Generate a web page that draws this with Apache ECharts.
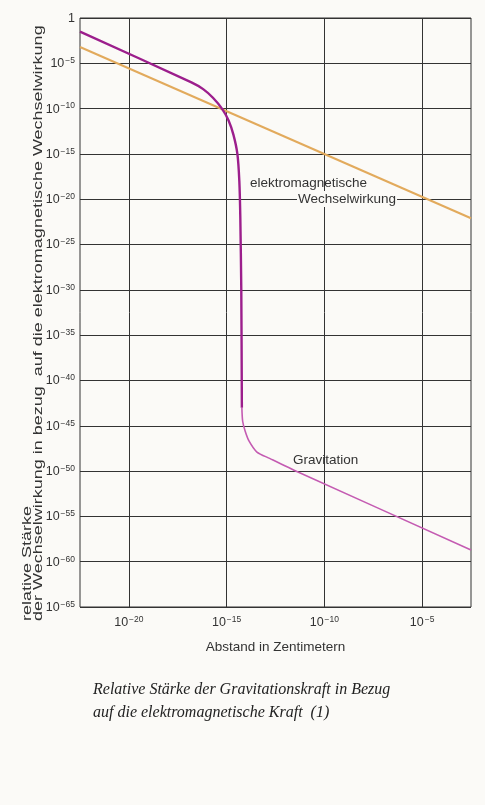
<!DOCTYPE html>
<html><head><meta charset="utf-8">
<script src="https://cdn.jsdelivr.net/npm/echarts@6/dist/echarts.min.js"></script>
<style>html,body{margin:0;padding:0;background:#fbfaf7;}#c{width:485px;height:805px;}</style>
</head><body><div id="c"></div>
<script>
// log10 values
const xTicks = [-20, -15, -10, -5];
const yTicks = [0, -5, -10, -15, -20, -25, -30, -35, -40, -45, -50, -55, -60, -65];
const gravUpper = [[-22.5,-1.5],[-16.8,-7.1],[-16.2,-7.85],[-15.7,-8.8],[-15.24,-10.0],[-14.9,-11.3],[-14.65,-12.9],[-14.45,-15.0],[-14.35,-18.0],[-14.3,-22],[-14.25,-30],[-14.22,-43]];
const gravLower = [[-14.22,-43],[-14.18,-44.5],[-14.05,-45.6],[-13.85,-46.7],[-13.45,-47.9],[-12.8,-48.6],[-11.35,-50.1],[-2.5,-58.7]];
const emLine = [[-22.5,-3.2],[-2.5,-22.1]];
const labelEM1 = 'elektromagnetische';
const labelEM2 = 'Wechselwirkung';
const labelGrav = 'Gravitation';
const yTitle = 'relative Stärke\nder Wechselwirkung in bezug  auf die elektromagnetische Wechselwirkung';
const xTitle = 'Abstand in Zentimetern';
const caption = 'Relative Stärke der Gravitationskraft in Bezug\nauf die elektromagnetische Kraft  (1)';

const chart = echarts.init(document.getElementById('c'), null, {renderer:'canvas'});
const FONT = '"Liberation Sans", Arial, sans-serif';
const expLabel = v => v === 0 ? '{b|1}' : '{b|10}{s|\u2212' + (-v) + '}';
const rich = {
  b: {fontSize: 12.5, fontFamily: FONT, color: '#333', lineHeight: 14, verticalAlign: 'bottom'},
  s: {fontSize: 8.5, fontFamily: FONT, color: '#333', lineHeight: 14, verticalAlign: 'top', padding:[0,0,0,1]}
};
chart.setOption({
  backgroundColor: '#fbfaf7',
  animation: false,
  grid: {left: 80, right: 14, top: 18, bottom: 198, show: true, borderColor: '#333', borderWidth: 1, backgroundColor: 'transparent'},
  xAxis: {
    type: 'value', min: -22.5, max: -2.5,
    axisLine: {show: false},
    axisTick: {show: false, customValues: xTicks},
    axisLabel: {customValues: xTicks, formatter: expLabel, rich: rich, margin: 8},
    splitLine: {show: true, lineStyle: {color: '#333', width: 1}},
    name: xTitle, nameLocation: 'middle', nameGap: 33,
    nameTextStyle: {fontSize: 13.5, fontFamily: FONT, color: '#333'}
  },
  yAxis: {
    type: 'value', min: -65, max: 0, interval: 5,
    axisLine: {show: false},
    axisTick: {show: false},
    axisLabel: {formatter: expLabel, rich: rich, margin: 5},
    splitLine: {show: true, lineStyle: {color: '#333', width: 1}}
  },
  series: [
    {type: 'line', data: emLine, symbol: 'none', lineStyle: {color: '#e2aa5c', width: 2}, z: 3},
    {type: 'line', data: gravUpper, symbol: 'none', smooth: 0.2, lineStyle: {color: '#9c1e8c', width: 2.4}, z: 4},
    {type: 'line', data: gravLower, symbol: 'none', smooth: 0.25, lineStyle: {color: '#c45bb2', width: 1.6}, z: 4}
  ],
  graphic: [
    {type: 'text', x: 250, y: 183, z: 10, style: {text: labelEM1, font: '13.5px ' + FONT, fill: '#333', verticalAlign: 'middle'}},
    {type: 'text', x: 297, y: 199, z: 10, style: {text: labelEM2, font: '13.5px ' + FONT, fill: '#333', verticalAlign: 'middle', backgroundColor: '#fbfaf7', padding: [1,1,1,1]}},
    {type: 'text', x: 293, y: 460, z: 10, style: {text: labelGrav, font: '13.5px ' + FONT, fill: '#333', verticalAlign: 'middle'}},
    {type: 'text', x: 33, y: 621, rotation: Math.PI/2, scaleX: 1.5, z: 10, style: {text: yTitle, font: '12px ' + FONT, fill: '#333', align: 'left', verticalAlign: 'middle', lineHeight: 11}},
    {type: 'text', x: 93, y: 701, z: 10, style: {text: caption, font: 'italic 16px "Liberation Serif", serif', fill: '#222', align: 'left', verticalAlign: 'middle', lineHeight: 23}}
  ]
});
</script></body></html>
